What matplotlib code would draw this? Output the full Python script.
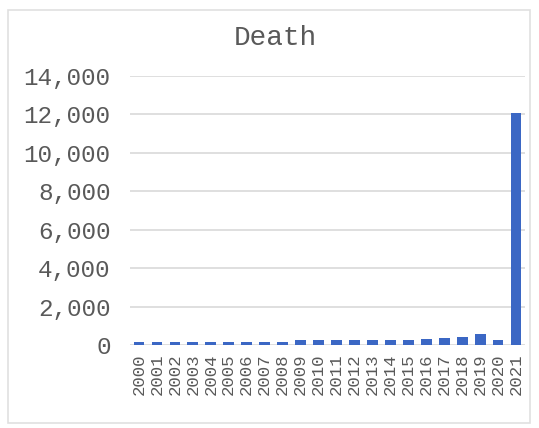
import matplotlib.pyplot as plt
from matplotlib.patches import Rectangle
from matplotlib.ticker import FuncFormatter

# data
years = [str(y) for y in range(2000, 2022)]
deaths = [150, 160, 140, 170, 150, 140, 150, 140, 160, 260,
          260, 250, 260, 270, 270, 280, 300, 380, 420, 560, 250, 12100]

bar_color = "#3b67c4"
text_color = "#595959"
grid_color = "#d9d9d9"
font = "Liberation Mono"

fig = plt.figure(figsize=(5.39, 4.28), dpi=100)
fig.patches.append(Rectangle((8 / 539, 5 / 428), 522 / 539, 413 / 428,
                             transform=fig.transFigure, fill=False,
                             edgecolor="#e0e0e0", linewidth=1.2))

ax = fig.add_axes([130 / 539, 83 / 428, 395 / 539, 269 / 428])
ax.bar(range(len(years)), deaths, width=0.6, color=bar_color, zorder=3)

ax.set_ylim(0, 14000)
ax.set_xlim(-0.5, len(years) - 0.5)
ax.set_yticks(range(0, 14001, 2000))
ax.yaxis.set_major_formatter(FuncFormatter(lambda v, p: f"{int(v):,}"))
ax.set_xticks(range(len(years)))
ax.set_xticklabels(years, rotation=90)

for lab in ax.get_yticklabels():
    lab.set_fontfamily(font)
    lab.set_fontsize(17.5)
    lab.set_color(text_color)
for lab in ax.get_xticklabels():
    lab.set_fontfamily(font)
    lab.set_fontsize(12.5)
    lab.set_color(text_color)

ax.tick_params(axis="y", length=0, pad=14)
ax.tick_params(axis="x", length=0, pad=6)
ax.grid(axis="y", color=grid_color, linewidth=1.2, zorder=0)
for s in ax.spines.values():
    s.set_visible(False)

fig.text(275 / 539, 1 - 38 / 428, "Death", ha="center", va="center",
         fontfamily=font, fontsize=20, color=text_color)

fig.savefig("out.png", dpi=100)
